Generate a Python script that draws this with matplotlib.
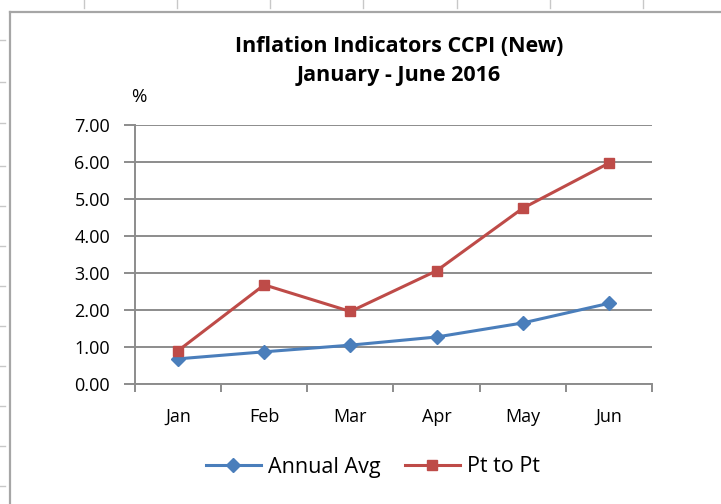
import matplotlib
matplotlib.use("Agg")
import matplotlib.pyplot as plt
from matplotlib.lines import Line2D

months = ["Jan", "Feb", "Mar", "Apr", "May", "Jun"]
annual_avg = [0.68, 0.87, 1.05, 1.27, 1.65, 2.18]
pt_to_pt = [0.90, 2.68, 1.96, 3.06, 4.75, 5.97]
yticks = [0, 1, 2, 3, 4, 5, 6, 7]

plt.rcParams['font.family'] = ['Open Sans', 'DejaVu Sans']

W, H = 721, 504
fig = plt.figure(figsize=(W / 100, H / 100), dpi=100)
fig.patch.set_facecolor('white')

# spreadsheet background decorations (frame + cell ticks)
fc = '#a6a6a6'
fig.add_artist(Line2D([9.5 / W, 9.5 / W], [0, 1 - 12 / H], transform=fig.transFigure, color=fc, lw=1.6))
fig.add_artist(Line2D([9.5 / W, 1], [1 - 12 / H, 1 - 12 / H], transform=fig.transFigure, color=fc, lw=1.6))
for yy in [40, 82, 123, 166, 206, 246, 286, 326, 366, 406, 446, 486]:
    fig.add_artist(Line2D([0, 5 / W], [1 - yy / H, 1 - yy / H], transform=fig.transFigure, color='#c8c8c8', lw=1))
for xx in [84, 177, 270, 363, 457, 550, 643]:
    fig.add_artist(Line2D([xx / W, xx / W], [1, 1 - 8 / H], transform=fig.transFigure, color='#c8c8c8', lw=1))

ax = fig.add_axes([135 / W, 1 - 384 / H, (652 - 135) / W, (384 - 125) / H])
x = list(range(len(months)))
blue = '#4a7ebb'
red = '#be4b48'
ax.plot(x, annual_avg, color=blue, lw=2.2, marker='D', ms=7.5, mec=blue, mfc=blue, label='Annual Avg', zorder=3)
ax.plot(x, pt_to_pt, color=red, lw=2.2, marker='s', ms=7, mec=red, mfc=red, label='Pt to Pt', zorder=3)

ax.set_xlim(-0.5, len(months) - 0.5)
ax.set_ylim(0, 7)
ax.set_yticks(yticks)
ax.set_yticklabels([f"{v:.2f}" for v in yticks], fontsize=13)
gc = '#8c8c8c'
ax.grid(axis='y', color=gc, lw=1.4)
ax.set_axisbelow(True)
ax.set_xticks(x)
ax.set_xticklabels(months, fontsize=13)
ax.tick_params(axis='x', which='major', length=0, pad=17)
ax.set_xticks([i - 0.5 for i in range(len(months) + 1)], minor=True)
ax.tick_params(axis='x', which='minor', length=6, color=gc, width=1.4, direction='out')
ax.tick_params(axis='y', length=8, color=gc, width=1.4, pad=10)
for s in ['top', 'right']:
    ax.spines[s].set_visible(False)
for s in ['left', 'bottom']:
    ax.spines[s].set_color(gc)
    ax.spines[s].set_linewidth(1.4)

fig.text(399 / W, 1 - 46 / H, "Inflation Indicators CCPI (New)", ha='center', va='center', fontsize=15.5, fontweight='bold')
fig.text(399 / W, 1 - 76 / H, "January - June 2016", ha='center', va='center', fontsize=15.5, fontweight='bold')
fig.text(139 / W, 1 - 97 / H, "%", ha='center', va='center', fontsize=13.5)

fig.legend(loc='center', bbox_to_anchor=(373 / W, 1 - 467 / H), ncol=2, frameon=False,
           fontsize=15.5, handlelength=2.55, columnspacing=1.1, handletextpad=0.35)

fig.savefig('out.png', dpi=100)
